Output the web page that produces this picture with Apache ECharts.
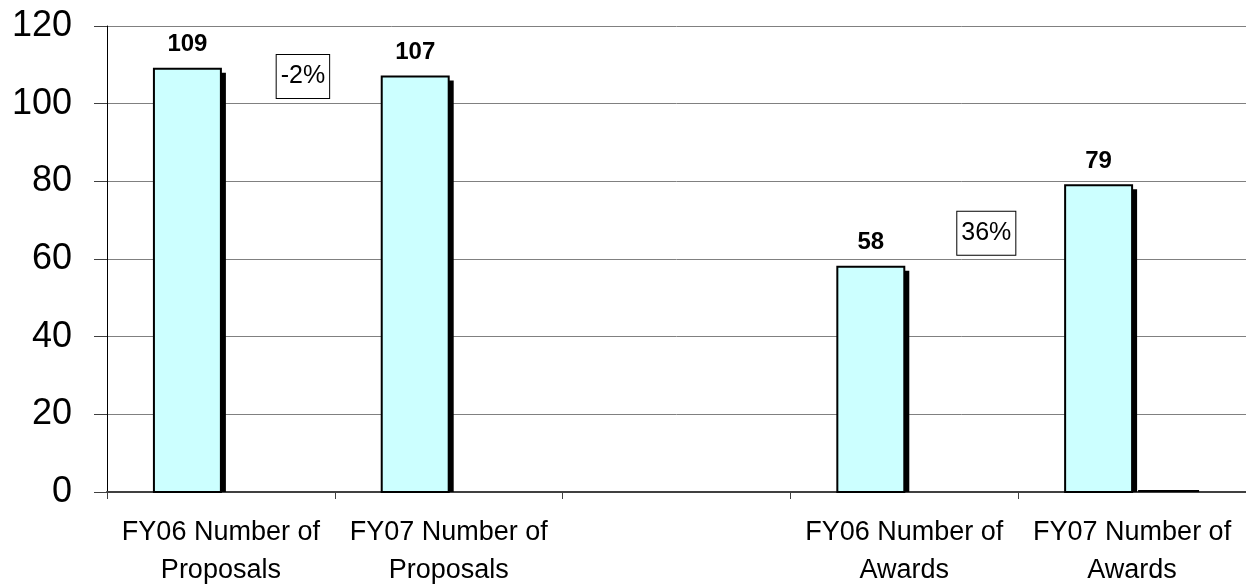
<!DOCTYPE html>
<html>
<head>
<meta charset="utf-8">
<script src="https://cdn.jsdelivr.net/npm/echarts@6/dist/echarts.min.js"></script>
<style>
html,body{margin:0;padding:0;background:#fff;}
#c{width:1246px;height:584px;}
</style>
</head>
<body>
<div id="c"></div>
<script>
const categories = ['FY06 Number of\nProposals', 'FY07 Number of\nProposals', '', 'FY06 Number of\nAwards', 'FY07 Number of\nAwards'];
const mainValues = [109, 107, null, 58, 79];
const secondValues = [null, null, null, null, 0.5];
const yTicks = { min: 0, max: 120, interval: 20 };
const annotations = [
  { cat: 0, value: 107, text: '-2%' },
  { cat: 3, value: 66.6, text: '36%' }
];

const font = 'Liberation Sans, Arial, sans-serif';
const BAR_FRAC = 0.294;

function toPairs(arr) {
  const out = [];
  arr.forEach((v, i) => { if (v !== null && v !== undefined) out.push([i, v]); });
  return out;
}

function renderMain(params, api) {
  const idx = api.value(0), val = api.value(1);
  const top = api.coord([idx, val]);
  const base = api.coord([idx, 0]);
  const band = api.size([1, 0])[0];
  const w = band * BAR_FRAC;
  const x = top[0] - w;
  const h = base[1] - top[1];
  return {
    type: 'group',
    children: [
      { type: 'rect', shape: { x: x + 5, y: top[1] + 4, width: w, height: h - 4 }, style: { fill: '#000' } },
      { type: 'rect', shape: { x: x, y: top[1], width: w, height: h }, style: { fill: '#CCFFFF', stroke: '#000', lineWidth: 2 } },
      { type: 'text', x: x + w / 2, y: top[1] - 12, style: { text: String(val), fill: '#000', fontSize: 24, fontWeight: 'bold', fontFamily: font, align: 'center', verticalAlign: 'bottom' } }
    ]
  };
}

function renderSecond(params, api) {
  const idx = api.value(0), val = api.value(1);
  const top = api.coord([idx, val]);
  const base = api.coord([idx, 0]);
  const band = api.size([1, 0])[0];
  const w = band * BAR_FRAC;
  return {
    type: 'rect',
    shape: { x: top[0] + 6, y: top[1], width: w - 6, height: Math.max(base[1] - top[1], 2) },
    style: { fill: '#000' }
  };
}

function renderNote(params, api) {
  const idx = api.value(0), val = api.value(1);
  const p = api.coord([idx, val]);
  const band = api.size([1, 0])[0];
  return {
    type: 'text',
    x: p[0] + band * 0.36, y: p[1],
    style: {
      text: annotations[params.dataIndex].text, fill: '#000', fontSize: 25, fontFamily: font,
      align: 'center', verticalAlign: 'middle',
      backgroundColor: '#fff', borderColor: '#000', borderWidth: 1, padding: [10, 4, 8, 4]
    }
  };
}

const chart = echarts.init(document.getElementById('c'));
chart.setOption({
  animation: false,
  backgroundColor: '#fff',
  grid: { left: 107, right: 0, top: 26, bottom: 92, outerBoundsMode: 'none', containLabel: false },
  xAxis: {
    type: 'category',
    data: categories,
    axisLine: { lineStyle: { color: '#404040', width: 2 } },
    axisTick: { show: true, length: 7, lineStyle: { color: '#404040', width: 1 } },
    axisLabel: { fontFamily: font, fontSize: 27, color: '#000', margin: 22, lineHeight: 38, interval: 0 },
    splitLine: { show: false }
  },
  yAxis: {
    type: 'value',
    min: yTicks.min, max: yTicks.max, interval: yTicks.interval,
    axisLine: { show: true, lineStyle: { color: '#000', width: 1 } },
    axisTick: { show: true, length: 13, lineStyle: { color: '#404040' } },
    axisLabel: { fontFamily: font, fontSize: 36, color: '#000', margin: 35, verticalAlign: 'middle', padding: [0, 0, 6, 0] },
    splitLine: { show: true, lineStyle: { color: '#808080', width: 1 } }
  },
  series: [
    { type: 'custom', renderItem: renderMain, data: toPairs(mainValues), z: 3 },
    { type: 'custom', renderItem: renderSecond, data: toPairs(secondValues), z: 3 },
    { type: 'custom', renderItem: renderNote, data: annotations.map(a => [a.cat, a.value]), z: 4 }
  ]
});
</script>
</body>
</html>
